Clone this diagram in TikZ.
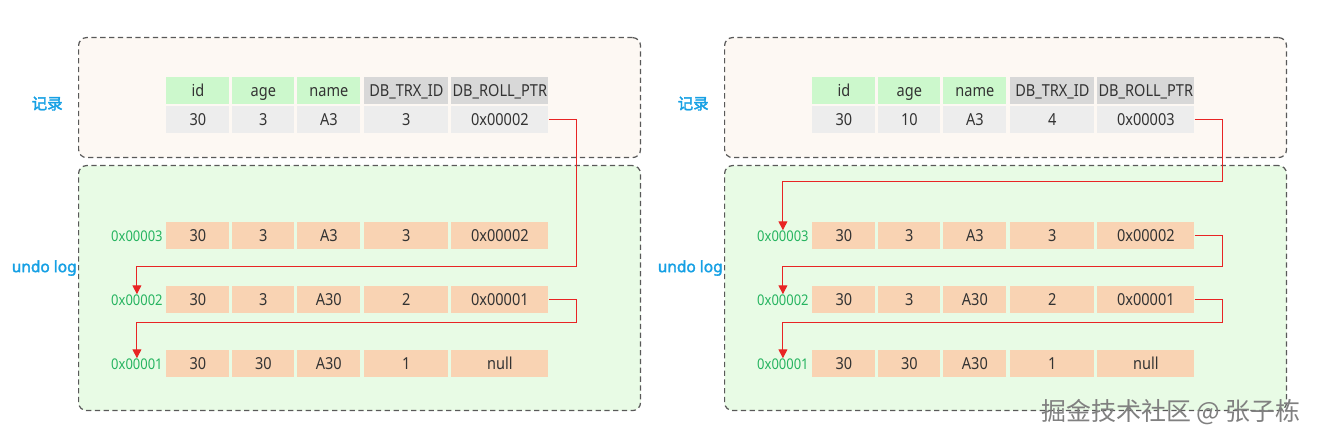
\documentclass[tikz,border=0pt]{standalone}
\usepackage{fontspec}
\setmainfont{Noto Sans}
\newfontfamily\cellfont{Noto Sans}[FakeStretch=0.88]
\newfontfamily\sidefont{Noto Sans}[FakeBold=2.2]
\newfontfamily\cjk{Noto Sans CJK SC}
\newfontfamily\cjkbold{Noto Sans CJK SC}[FakeBold=2.2]
\usetikzlibrary{positioning}
\usetikzlibrary{arrows.meta}
\usetikzlibrary{calc}

\definecolor{recbg}{RGB}{253,248,243}
\definecolor{undobg}{RGB}{232,251,229}
\definecolor{hdrgreen}{RGB}{204,248,204}
\definecolor{hdrgray}{RGB}{216,216,216}
\definecolor{recgray}{RGB}{237,237,237}
\definecolor{undopeach}{RGB}{249,211,179}
\definecolor{ptrred}{RGB}{232,36,36}
\definecolor{addrgreen}{RGB}{38,180,96}
\definecolor{sideblue}{RGB}{22,160,228}

\tikzset{
    panel/.style={draw=black!65, dash pattern=on 3pt off 2pt, line width=0.7pt,
        rounded corners=4.5pt, anchor=north west, inner sep=0pt,
        minimum width=11.24cm},
    cell/.style={minimum height=0.54cm, inner sep=0pt, anchor=north west,
        text height=6.6pt, text depth=0pt,
        text=black!80, font=\cellfont\fontsize{9.4}{11}\selectfont},
    hdr/.style={cell, fill=hdrgreen},
    hdr key/.style={fill=hdrgray},
    rec/.style={cell, fill=recgray},
    rec key/.style={},
    undo/.style={cell, fill=undopeach},
    undo key/.style={},
    addr/.style={inner sep=0pt, text height=6pt, text depth=0pt, text=addrgreen,
        font=\cellfont\fontsize{8.4}{10}\selectfont},
    side/.style={text=sideblue, inner sep=0pt, font=\sidefont\fontsize{8.8}{10}\selectfont},
    ptr/.style={draw=ptrred, line width=0.6pt, -{Triangle[width=5pt,length=5pt]}}
}

% one row of five cells: name, x offset, top y, style, texts
\newcommand{\cellrow}[9]{%
    \foreach \cx/\cw/\ct [count=\ci] in {166/63/{#5},232/62/{#6},297/63/{#7},364/84/{#8},451/97/{#9}}{%
        \ifnum\ci>3 \def\cellkey{#4 key}\else\def\cellkey{}\fi
        \node[#4, \cellkey, minimum width=\cw*0.02cm] (#1-\ci) at (\cx+#2,#3) {\ct};
    }%
}

\begin{document}
\begin{tikzpicture}[x=0.02cm, y=-0.02cm]
    \useasboundingbox (0,0) rectangle (1318,442);

    % left: before the update
    \node[panel, fill=recbg, minimum height=2.4cm] (Ltop) at (78,37) {};
    \node[panel, fill=undobg, minimum height=4.9cm] (Lbot) at (78,165) {};
    \node[side, font=\cjkbold\fontsize{8.8}{10}\selectfont, left=0.3cm of Ltop, yshift=-0.12cm] (Lrec) {记录};
    \node[side, left=0.02cm of Lbot, yshift=0.4cm] (Lundo) {undo log};

    \cellrow{Lh}{0}{77}{hdr}{id}{age}{name}{DB\_TRX\_ID}{DB\_ROLL\_PTR}
    \cellrow{Lr}{0}{106}{rec}{30}{3}{A3}{3}{0x00002}
    \cellrow{Lu1}{0}{222}{undo}{30}{3}{A3}{3}{0x00002}
    \cellrow{Lu2}{0}{286}{undo}{30}{3}{A30}{2}{0x00001}
    \cellrow{Lu3}{0}{350}{undo}{30}{30}{A30}{1}{null}

    \node[addr, left=0.06cm of Lu1-1] (Lu1lab) {0x00003};
    \node[addr, left=0.06cm of Lu2-1] (Lu2lab) {0x00002};
    \node[addr, left=0.06cm of Lu3-1] (Lu3lab) {0x00001};

    \draw[ptr] (Lr-5.east) -- ++(28,0) |- ($(Lu2lab.north)+(0,-28)$) -- (Lu2lab.north);
    \draw[ptr] (Lu2-5.east) -- ++(28,0) |- ($(Lu3lab.north)+(0,-36)$) -- (Lu3lab.north);

    % right: after the update
    \node[panel, fill=recbg, minimum height=2.4cm] (Rtop) at (724,37) {};
    \node[panel, fill=undobg, minimum height=4.9cm] (Rbot) at (724,165) {};
    \node[side, font=\cjkbold\fontsize{8.8}{10}\selectfont, left=0.3cm of Rtop, yshift=-0.12cm] (Rrec) {记录};
    \node[side, left=0.02cm of Rbot, yshift=0.4cm] (Rundo) {undo log};

    \cellrow{Rh}{646}{77}{hdr}{id}{age}{name}{DB\_TRX\_ID}{DB\_ROLL\_PTR}
    \cellrow{Rr}{646}{106}{rec}{30}{10}{A3}{4}{0x00003}
    \cellrow{Ru1}{646}{222}{undo}{30}{3}{A3}{3}{0x00002}
    \cellrow{Ru2}{646}{286}{undo}{30}{3}{A30}{2}{0x00001}
    \cellrow{Ru3}{646}{350}{undo}{30}{30}{A30}{1}{null}

    \node[addr, left=0.06cm of Ru1-1] (Ru1lab) {0x00003};
    \node[addr, left=0.06cm of Ru2-1] (Ru2lab) {0x00002};
    \node[addr, left=0.06cm of Ru3-1] (Ru3lab) {0x00001};

    \draw[ptr] (Rr-5.east) -- ++(28,0) |- ($(Ru1lab.north)+(0,-49)$) -- (Ru1lab.north);
    \draw[ptr] (Ru1-5.east) -- ++(28,0) |- ($(Ru2lab.north)+(0,-28)$) -- (Ru2lab.north);
    \draw[ptr] (Ru2-5.east) -- ++(28,0) |- ($(Ru3lab.north)+(0,-36)$) -- (Ru3lab.north);

    \node[anchor=south east, inner sep=0pt, text=black!50,
        font=\cjk\fontsize{14.2}{16}\selectfont] (mark) at (1301,425) {掘金技术社区 @ 张子栋};
\end{tikzpicture}
\end{document}
